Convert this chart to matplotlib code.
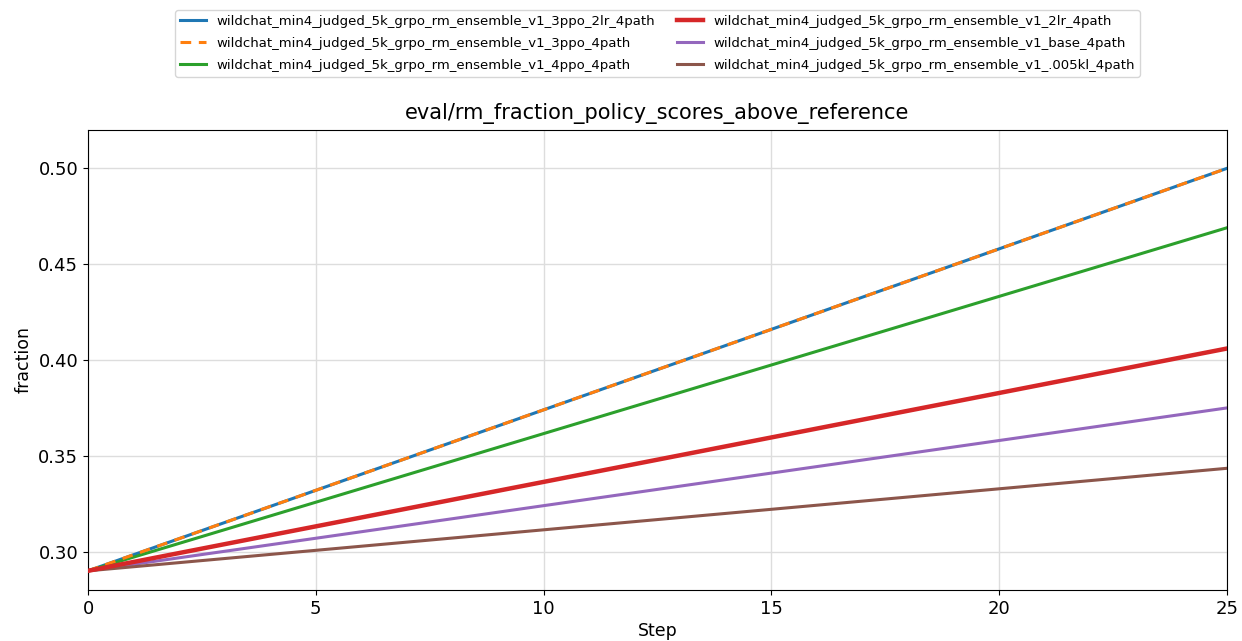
import matplotlib
matplotlib.use("Agg")
import matplotlib.pyplot as plt

#### 数据
steps = [0, 25]
run_names = [
    "wildchat_min4_judged_5k_grpo_rm_ensemble_v1_3ppo_2lr_4path",
    "wildchat_min4_judged_5k_grpo_rm_ensemble_v1_3ppo_4path",
    "wildchat_min4_judged_5k_grpo_rm_ensemble_v1_4ppo_4path",
    "wildchat_min4_judged_5k_grpo_rm_ensemble_v1_2lr_4path",
    "wildchat_min4_judged_5k_grpo_rm_ensemble_v1_base_4path",
    "wildchat_min4_judged_5k_grpo_rm_ensemble_v1_.005kl_4path",
]
run_3ppo_2lr = [0.29, 0.50]
run_3ppo = [0.29, 0.50]
run_4ppo = [0.29, 0.469]
run_2lr = [0.29, 0.406]
run_base = [0.29, 0.375]
run_005kl = [0.29, 0.3435]

####绘图
fig = plt.figure(figsize=(12.42, 6.41), dpi=100)
ax = fig.add_axes([88 / 1242, 1 - 590 / 641, (1227 - 88) / 1242, 460 / 641])

ax.plot(steps, run_3ppo_2lr, color="#1f77b4", lw=2.2, label=run_names[0], zorder=2)
ax.plot(steps, run_3ppo, color="#ff7f0e", lw=2.2, ls=(0, (3.5, 2.5)), label=run_names[1], zorder=3)
ax.plot(steps, run_4ppo, color="#2ca02c", lw=2.2, label=run_names[2], zorder=2)
ax.plot(steps, run_2lr, color="#d62728", lw=3.2, label=run_names[3], zorder=4)
ax.plot(steps, run_base, color="#9467bd", lw=2.2, label=run_names[4], zorder=2)
ax.plot(steps, run_005kl, color="#8c564b", lw=2.2, label=run_names[5], zorder=2)

ax.set_xlim(0, 25)
ax.set_ylim(0.28, 0.52)
ax.set_xticks([0, 5, 10, 15, 20, 25])
ax.set_yticks([0.30, 0.35, 0.40, 0.45, 0.50])
ax.tick_params(labelsize=13)
ax.grid(True, color="#dddddd", lw=1)
ax.set_axisbelow(True)
ax.set_title("eval/rm_fraction_policy_scores_above_reference", fontsize=15, pad=8)
ax.set_xlabel("Step", fontsize=12.5, labelpad=3)
ax.set_ylabel("fraction", fontsize=12.5)

fig.legend(loc="upper center", bbox_to_anchor=(657.5 / 1242, 1 - 10 / 641), ncol=2,
           fontsize=9.5, handlelength=2, columnspacing=1.6, labelspacing=0.7,
           borderpad=0.35, borderaxespad=0)

fig.savefig("out.png", dpi=100)
